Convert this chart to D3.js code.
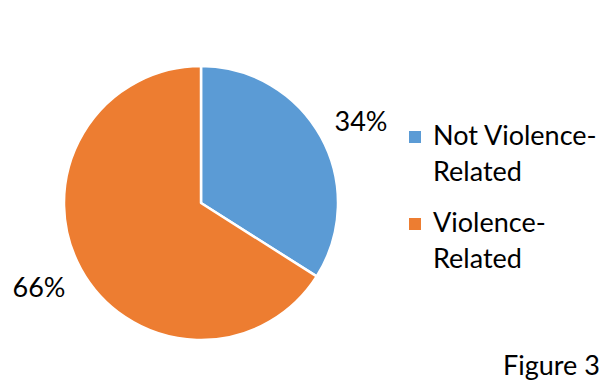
<!DOCTYPE html>
<meta charset="utf-8">
<style>
body {
	margin: 0;
	background-color: #ffffff;
}
text {
	font-family: Lato, sans-serif;
	font-size: 27px;
	fill: #000;
}
</style>
<body>
<script src="https://d3js.org/d3.v7.min.js"></script>
<script>
var width = 606;
var height = 388;

var categories = ['Not Violence-Related', 'Violence-Related'];
var legendLines = [['Not Violence-', 'Related'], ['Violence-', 'Related']];
var values = [34, 66];
var pctLabels = ['34%', '66%'];
var colors = ['#5b9bd5', '#ed7d31'];

var cx = 201, cy = 203, r = 137;

var svg = d3.select('body')
	.append('svg')
	.attr('width', width)
	.attr('height', height);

var pie = d3.pie().sort(null).value(function(d) { return d; });
var arc = d3.arc().innerRadius(0).outerRadius(r);
var arcs = pie(values);

var g = svg.append('g')
	.attr('transform', 'translate(' + cx + ',' + cy + ')');

g.selectAll('path')
	.data(arcs)
	.enter()
	.append('path')
	.attr('d', arc)
	.style('fill', function(d, i) { return colors[i]; })
	.style('stroke', '#fff')
	.style('stroke-width', 2.5)
	.style('stroke-linejoin', 'round');

// data labels outside the slices
var labelArc = d3.arc().innerRadius(r + 30).outerRadius(r + 30);
var labelPos = [[160, -72], [-162, 94]];
g.selectAll('text.pct')
	.data(arcs)
	.enter()
	.append('text')
	.attr('class', 'pct')
	.attr('x', function(d, i) { return labelPos[i][0]; })
	.attr('y', function(d, i) { return labelPos[i][1]; })
	.attr('text-anchor', 'middle')
	.text(function(d, i) { return pctLabels[i]; });

// legend
var legend = svg.append('g').attr('transform', 'translate(409,131)');
var item = legend.selectAll('g')
	.data(categories)
	.enter()
	.append('g')
	.attr('transform', function(d, i) { return 'translate(0,' + (i * 87) + ')'; });

item.append('rect')
	.attr('width', 12)
	.attr('height', 12)
	.style('fill', function(d, i) { return colors[i]; });

item.each(function(d, i) {
	var t = d3.select(this).append('text').attr('x', 24).attr('y', 14);
	legendLines[i].forEach(function(line, j) {
		t.append('tspan')
			.attr('x', 24)
			.attr('dy', j === 0 ? 0 : 36)
			.text(line);
	});
});

svg.append('text')
	.attr('x', 503)
	.attr('y', 375)
	.text('Figure 3');
</script>
</body>
